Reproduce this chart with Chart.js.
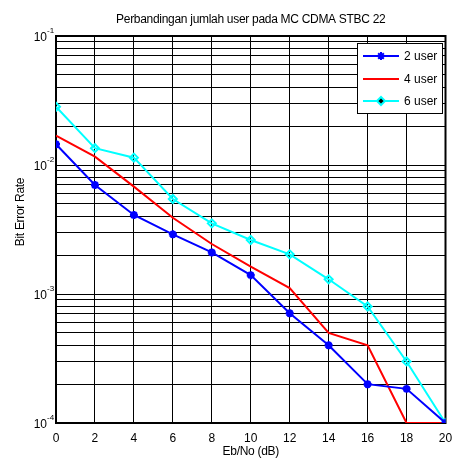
<!DOCTYPE html>
<html>
<head>
<meta charset="utf-8">
<script src="https://cdn.jsdelivr.net/npm/chart.js@4"></script>
<style>
  body { margin: 0; background: #fff; }
  canvas { display: block; }
</style>
</head>
<body>
<canvas id="berChart" width="452" height="464"></canvas>
<script>
// Eb/No (dB) values and BER for each user count
const ebno = [0, 2, 4, 6, 8, 10, 12, 14, 16, 18, 20];
const ber2 = [0.0145, 0.0070, 0.0041, 0.0029, 0.0021, 0.0014, 0.00071, 0.00040, 0.00020, 0.000184, 0.0001];
const ber4 = [0.0169, 0.0116, 0.0068, 0.0039, 0.00244, 0.00163, 0.00111, 0.00050, 0.00040, 0.0001, 0.0001];
const ber6 = [0.0283, 0.0135, 0.0114, 0.00545, 0.00353, 0.00262, 0.00203, 0.0013, 0.0008, 0.0003, 0.0001];
const seriesNames = ['2 user', '4 user', '6 user'];
const yDecades = [-4, -3, -2, -1];
const xTicks = [0, 2, 4, 6, 8, 10, 12, 14, 16, 18, 20];
const chartTitle = 'Perbandingan jumlah user pada MC CDMA STBC 22';
const xTitle = 'Eb/No (dB)';
const yTitle = 'Bit Error Rate';

const FONT = 'Liberation Sans, Arial, sans-serif';

function pts(ys) {
    return ebno.map((x, i) => ({ x: x, y: ys[i] }));
}

// log grid: 1..9 x each decade
function logTicks() {
    const out = [];
    yDecades.forEach((d, i) => {
        const last = i === yDecades.length - 1;
        for (let m = 1; m <= (last ? 1 : 9); m++) {
            out.push({ value: m * Math.pow(10, d) });
        }
    });
    return out;
}

// box round the axes, titles, and 10^n labels with a raised exponent
const axesDecor = {
    id: 'axesDecor',
    beforeDatasetsDraw(chart) {
        const { ctx, chartArea: a } = chart;
        ctx.save();
        ctx.strokeStyle = '#000';
        ctx.lineWidth = 2;
        ctx.strokeRect(a.left, a.top, a.right - a.left, a.bottom - a.top);
        ctx.restore();
    },
    afterDraw(chart) {
        const { ctx, chartArea: a, scales: { y } } = chart;
        ctx.save();
        ctx.fillStyle = '#000';
        ctx.textBaseline = 'middle';
        yDecades.forEach(d => {
            const py = y.getPixelForValue(Math.pow(10, d));
            ctx.font = '12px ' + FONT;
            ctx.textAlign = 'right';
            ctx.fillText('10', 47, py + 2);
            ctx.font = '8px ' + FONT;
            ctx.textAlign = 'left';
            ctx.fillText(String(d), 47, py - 5);
        });

        // MATLAB text is set tight
        ctx.letterSpacing = '-0.3px';
        const cx = (a.left + a.right) / 2;
        ctx.textAlign = 'center';
        ctx.font = '12px ' + FONT;
        ctx.fillText(chartTitle, cx, 20);
        ctx.fillText(xTitle, cx, 452);

        ctx.translate(21, 212);
        ctx.rotate(-Math.PI / 2);
        ctx.fillText(yTitle, 0, 0);
        ctx.restore();
    }
};

// legend box inside the top right corner, MATLAB style
const boxLegend = {
    id: 'boxLegend',
    afterDraw(chart) {
        const { ctx } = chart;
        const x0 = 357, y0 = 43, w = 85, h = 70;
        ctx.save();
        ctx.fillStyle = '#fff';
        ctx.fillRect(x0, y0, w, h);
        ctx.strokeStyle = '#000';
        ctx.lineWidth = 1;
        ctx.strokeRect(x0 + 0.5, y0 + 0.5, w, h);
        const rows = [56, 79, 101];
        chart.data.datasets.forEach((ds, i) => {
            const ry = rows[i];
            ctx.strokeStyle = ds.borderColor;
            ctx.lineWidth = 2;
            ctx.beginPath();
            ctx.moveTo(363, ry);
            ctx.lineTo(399, ry);
            ctx.stroke();
            if (ds.pointRadius > 0) {
                Chart.helpers.drawPoint(ctx, {
                    pointStyle: ds.pointStyle,
                    radius: ds.pointRadius,
                    borderWidth: ds.pointBorderWidth,
                    rotation: 0
                }, 381, ry);
            }
            ctx.fillStyle = '#000';
            ctx.font = '12px ' + FONT;
            ctx.textAlign = 'left';
            ctx.textBaseline = 'middle';
            ctx.fillText(ds.label, 404, ry + 1);
        });
        ctx.restore();
    }
};

new Chart(
    document.getElementById('berChart'),
    {
        type: 'line',
        plugins: [axesDecor, boxLegend],
        data: {
            datasets: [
                {
                    label: seriesNames[0],
                    data: pts(ber2),
                    borderColor: '#0000ff',
                    backgroundColor: '#0000ff',
                    borderWidth: 2,
                    pointStyle: 'star',
                    pointRadius: 4,
                    pointBorderWidth: 2.5,
                    pointBorderColor: '#0000ff'
                },
                {
                    label: seriesNames[1],
                    data: pts(ber4),
                    borderColor: '#ff0000',
                    backgroundColor: '#ff0000',
                    borderWidth: 2,
                    pointRadius: 0
                },
                {
                    label: seriesNames[2],
                    data: pts(ber6),
                    borderColor: '#00ffff',
                    backgroundColor: '#ffffff',
                    borderWidth: 2,
                    pointStyle: 'rectRot',
                    pointRadius: 4,
                    pointBorderWidth: 2,
                    pointBorderColor: '#00ffff',
                    pointBackgroundColor: 'rgba(255,255,255,0)'
                }
            ]
        },
        options: {
            responsive: false,
            animation: false,
            devicePixelRatio: 1,
            layout: { padding: { top: 36, left: 0, right: 5, bottom: 0 } },
            plugins: {
                legend: { display: false },
                tooltip: { enabled: false },
                title: { display: false }
            },
            scales: {
                x: {
                    type: 'linear',
                    min: 0,
                    max: 20,
                    afterBuildTicks: (s) => { s.ticks = xTicks.map(v => ({ value: v })); },
                    afterFit: (s) => { s.height = 41; s.paddingLeft = 0; s.paddingRight = 0; },
                    grid: { color: '#000', lineWidth: 1, drawTicks: false },
                    border: { color: '#000', width: 2 },
                    ticks: {
                        color: '#000',
                        font: { family: FONT, size: 12 },
                        padding: 8,
                        autoSkip: false,
                        maxRotation: 0
                    }
                },
                y: {
                    type: 'logarithmic',
                    min: 1e-4,
                    max: 1e-1,
                    afterBuildTicks: (s) => { s.ticks = logTicks(); },
                    afterFit: (s) => { s.width = 56; s.paddingTop = 0; s.paddingBottom = 0; },
                    grid: { color: '#000', lineWidth: 1, drawTicks: false },
                    border: { color: '#000', width: 2 },
                    ticks: {
                        autoSkip: false,
                        callback: () => ''
                    }
                }
            }
        }
    }
);
</script>
</body>
</html>
